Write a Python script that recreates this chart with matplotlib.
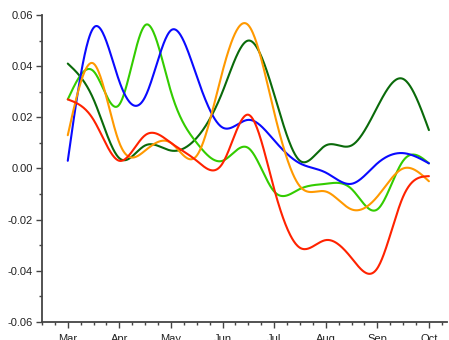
import numpy as np
import matplotlib
matplotlib.use("Agg")
import matplotlib.pyplot as plt
from matplotlib.ticker import FixedLocator, MultipleLocator

# --- data (half-month samples, Mar .. Oct) ---
months = ["Mar", "Apr", "May", "Jun", "Jul", "Aug", "Sep", "Oct"]
t = np.arange(0, 7.01, 0.5)

dark_green = [0.041, 0.027, 0.004, 0.009, 0.007, 0.012, 0.030, 0.050, 0.029, 0.003, 0.009, 0.009, 0.024, 0.035, 0.015]
green      = [0.027, 0.038, 0.025, 0.056, 0.030, 0.010, 0.003, 0.008, -0.009, -0.008, -0.006, -0.008, -0.016, 0.003, 0.002]
blue       = [0.003, 0.055, 0.034, 0.028, 0.054, 0.036, 0.016, 0.019, 0.011, 0.002, -0.0016, -0.006, 0.002, 0.006, 0.002]
orange     = [0.013, 0.041, 0.010, 0.007, 0.010, 0.005, 0.038, 0.056, 0.022, -0.007, -0.009, -0.016, -0.011, 0.000, -0.005]
red        = [0.027, 0.019, 0.003, 0.013, 0.010, 0.003, 0.002, 0.021, -0.008, -0.031, -0.028, -0.035, -0.039, -0.011, -0.003]

y_ticks = [-0.06, -0.04, -0.02, 0.00, 0.02, 0.04, 0.06]
y_labels = ["-0.06", "-0.04", "-0.02", "0.00", "0.02", "0.04", "0.06"]


def natural_spline(x, y, xs):
    x = np.asarray(x, float); y = np.asarray(y, float)
    n = len(x)
    h = np.diff(x)
    A = np.zeros((n, n)); b = np.zeros(n)
    A[0, 0] = 1; A[-1, -1] = 1
    for i in range(1, n - 1):
        A[i, i - 1] = h[i - 1]
        A[i, i] = 2 * (h[i - 1] + h[i])
        A[i, i + 1] = h[i]
        b[i] = 6 * ((y[i + 1] - y[i]) / h[i] - (y[i] - y[i - 1]) / h[i - 1])
    M = np.linalg.solve(A, b)
    idx = np.clip(np.searchsorted(x, xs) - 1, 0, n - 2)
    x0 = x[idx]; x1 = x[idx + 1]; hh = x1 - x0
    a = (x1 - xs) / hh; c = (xs - x0) / hh
    return (a * y[idx] + c * y[idx + 1]
            + ((a ** 3 - a) * M[idx] + (c ** 3 - c) * M[idx + 1]) * hh ** 2 / 6)


fig = plt.figure(figsize=(4.49, 3.40), dpi=100)
ax = fig.add_axes([0.0935, 0.053, 0.902, 0.903])

ts = np.linspace(t[0], t[-1], 600)
series = [(dark_green, "#0a6a0a"), (green, "#33cc00"), (blue, "#0a0aff"),
          (orange, "#ff9900"), (red, "#ff2200")]
for vals, col in series:
    ax.plot(ts, natural_spline(t, vals, ts), color=col, lw=1.5, solid_capstyle="round")

ax.set_xlim(-0.5, 7.35)
ax.set_ylim(-0.06, 0.06)

ax.xaxis.set_major_locator(FixedLocator(range(len(months))))
ax.set_xticklabels(months)
ax.xaxis.set_minor_locator(MultipleLocator(0.25))
ax.yaxis.set_major_locator(FixedLocator(y_ticks))
ax.set_yticklabels(y_labels)
ax.yaxis.set_minor_locator(MultipleLocator(0.01))

for s in ["top", "right"]:
    ax.spines[s].set_visible(False)
for s in ["left", "bottom"]:
    ax.spines[s].set_color("#444444")
    ax.spines[s].set_linewidth(1.3)

ax.tick_params(which="major", direction="out", length=4.5, width=1, color="#444444",
               labelsize=8, labelcolor="#222222", pad=2)
ax.tick_params(axis="x", which="major", pad=4)
ax.tick_params(which="minor", direction="out", length=2.5, width=1, color="#444444")
for lab in ax.get_xticklabels() + ax.get_yticklabels():
    lab.set_fontfamily("Liberation Sans")

fig.savefig("out.png", dpi=100)
